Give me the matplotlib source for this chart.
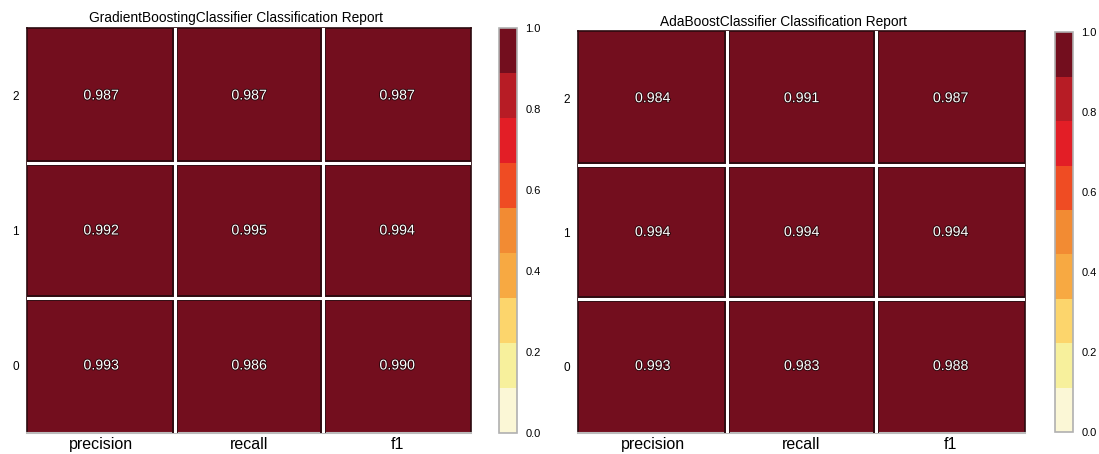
import numpy as np
import matplotlib
matplotlib.use("Agg")
import matplotlib.pyplot as plt
import matplotlib.patheffects as pe
from matplotlib.colors import BoundaryNorm, ListedColormap

plt.rcParams["font.family"] = ["Liberation Sans", "DejaVu Sans"]

metrics = ["precision", "recall", "f1"]
classes = ["0", "1", "2"]

# rows are classes 0, 1, 2; columns are precision, recall, f1
gb_scores = np.array([
    [0.993, 0.986, 0.990],
    [0.992, 0.995, 0.994],
    [0.987, 0.987, 0.987],
])
ada_scores = np.array([
    [0.993, 0.983, 0.988],
    [0.994, 0.994, 0.994],
    [0.984, 0.991, 0.987],
])

titles = ["GradientBoostingClassifier Classification Report",
          "AdaBoostClassifier Classification Report"]
cbar_ticks = [0.0, 0.2, 0.4, 0.6, 0.8, 1.0]

# nine-step yellow-orange-red palette
palette = ["#fbf7d6", "#f7f09c", "#fcd56c", "#f7a942", "#f28b33",
           "#ef4c23", "#e31e26", "#b71c25", "#730e1e"]
cmap = ListedColormap(palette)
bounds = np.linspace(0, 1, 10)
norm = BoundaryNorm(bounds, cmap.N)

fig = plt.figure(figsize=(10.99, 4.54), dpi=100)

layout = [
    # heatmap axes, colorbar axes, title x
    ([0.0246, 0.0463, 0.404, 0.892], [0.454, 0.0463, 0.0164, 0.892], 0.47),
    ([0.526, 0.0463, 0.4067, 0.885], [0.960, 0.048, 0.0164, 0.881], 0.46),
]

text_fx = [pe.withStroke(linewidth=1.3, foreground="#2a070c")]
edge_dark = "#2b0a0f"

for scores, title, (hpos, cpos, tx) in zip([gb_scores, ada_scores], titles, layout):
    ax = fig.add_axes(hpos)
    mesh = ax.pcolormesh(np.arange(4), np.arange(4), scores, cmap=cmap, norm=norm)
    # cell separators: dark rim under a white gap
    for k in (1, 2):
        ax.axvline(k, color=edge_dark, lw=4.2, zorder=3)
        ax.axhline(k, color=edge_dark, lw=4.2, zorder=3)
    for k in (1, 2):
        ax.axvline(k, color="white", lw=2.2, zorder=3.5)
        ax.axhline(k, color="white", lw=2.2, zorder=3.5)
    for i in range(3):
        for j in range(3):
            ax.text(j + 0.5, i + 0.5, f"{scores[i, j]:.3f}", ha="center", va="center",
                    color="white", fontsize=10.2, path_effects=text_fx, zorder=4)
    ax.set_xlim(0, 3)
    ax.set_ylim(0, 3)
    ax.set_xticks(np.arange(3) + 0.5)
    ax.set_xticklabels(metrics, fontsize=11.5)
    ax.set_yticks(np.arange(3) + 0.5)
    ax.set_yticklabels(classes, fontsize=8.5)
    ax.tick_params(length=0, pad=6)
    ax.tick_params(axis="x", pad=3)
    for side, sp in ax.spines.items():
        sp.set_color(edge_dark if side in ("left", "top", "right") else "#bbbbbb")
        sp.set_linewidth(1.2)
    ax.spines["bottom"].set_linewidth(1.5)
    ax.set_title(title, fontsize=9.9, x=tx, pad=4)

    cax = fig.add_axes(cpos)
    cb = fig.colorbar(mesh, cax=cax, ticks=cbar_ticks, boundaries=bounds)
    cb.outline.set_edgecolor("#b0b0b0")
    cb.outline.set_linewidth(1.2)
    cax.minorticks_off()
    cax.tick_params(length=0, labelsize=8, pad=6)
    cax.set_yticklabels([f"{t:.1f}" for t in cbar_ticks])

fig.savefig("out.png", dpi=100)
